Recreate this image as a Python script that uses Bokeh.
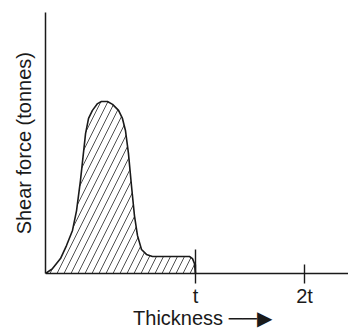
from bokeh.plotting import figure
from bokeh.embed import file_html
from bokeh.resources import INLINE
from bokeh.models import FixedTicker, Range1d

# thickness position (in units of t) and shear force (relative to full height)
thickness = [0.0, 0.047, 0.10, 0.14, 0.18, 0.207, 0.233, 0.267, 0.287, 0.313, 0.347,
             0.373, 0.413, 0.447, 0.487, 0.513, 0.533, 0.553, 0.573, 0.593, 0.613,
             0.64, 0.673, 0.713, 0.96, 0.98, 0.993, 1.0]
shear = [0.0, 0.019, 0.057, 0.107, 0.165, 0.241, 0.356, 0.536, 0.594, 0.625, 0.651,
         0.659, 0.659, 0.648, 0.625, 0.594, 0.548, 0.46, 0.337, 0.222, 0.146,
         0.092, 0.073, 0.065, 0.065, 0.057, 0.038, 0.0]
tick_pos = [1.0, 1.727]
tick_labels = ["t", "2t"]
t_marker_height = 0.092
y_title = "Shear force (tonnes)"
x_title = "Thickness"

FONT = "Liberation Sans"
INK = "#1a1a1a"
NB = "\u00a0"

p = figure(width=348, height=329, output_backend="svg", toolbar_location=None,
           x_range=Range1d(0, 2.02), y_range=Range1d(-0.2146, 1),
           min_border_left=45, min_border_right=0, min_border_top=12, min_border_bottom=0)
p.outline_line_color = None
p.grid.visible = False

p.varea(x=thickness, y1=0, y2=shear, fill_color=None, fill_alpha=0,
        hatch_pattern="/", hatch_color="#222222", hatch_scale=14, hatch_weight=0.8)
p.line(thickness, shear, line_color=INK, line_width=1.6)
p.segment(x0=[tick_pos[0]], y0=[0], x1=[tick_pos[0]], y1=[t_marker_height],
          line_color=INK, line_width=1.4)

p.yaxis.bounds = (0, 1)
p.yaxis.ticker = FixedTicker(ticks=[])
p.yaxis.major_tick_line_color = None
p.yaxis.minor_tick_line_color = None
p.yaxis.major_label_text_font_size = "0px"
# leading no-break spaces lift the (rotated) title so it is centred on the drawn axis
p.yaxis.axis_label = NB * 10 + y_title
p.yaxis.axis_label_text_font = FONT
p.yaxis.axis_label_text_font_style = "normal"
p.yaxis.axis_label_text_font_size = "20px"
p.yaxis.axis_label_text_color = INK
p.yaxis.axis_label_standoff = 11
p.yaxis.axis_line_width = 1.5
p.yaxis.axis_line_color = INK

p.xaxis.fixed_location = 0
p.xaxis.ticker = FixedTicker(ticks=tick_pos)
p.xaxis.major_label_overrides = {tick_pos[0]: tick_labels[0], tick_pos[1]: tick_labels[1]}
p.xaxis.minor_tick_line_color = None
p.xaxis.major_tick_in = 9
p.xaxis.major_tick_out = 10
p.xaxis.major_tick_line_width = 1.4
p.xaxis.major_tick_line_color = INK
p.xaxis.major_label_text_font = FONT
p.xaxis.major_label_text_font_size = "20px"
p.xaxis.major_label_text_color = INK
p.xaxis.major_label_standoff = 2
p.xaxis.axis_label = NB * 2 + x_title + " \u2500\u2500\u25b6"
p.xaxis.axis_label_text_font = FONT
p.xaxis.axis_label_text_font_style = "normal"
p.xaxis.axis_label_text_font_size = "20px"
p.xaxis.axis_label_text_color = INK
p.xaxis.axis_label_standoff = -4
p.xaxis.axis_line_width = 1.5
p.xaxis.axis_line_color = INK

open("out.html", "w").write(file_html(p, INLINE))
